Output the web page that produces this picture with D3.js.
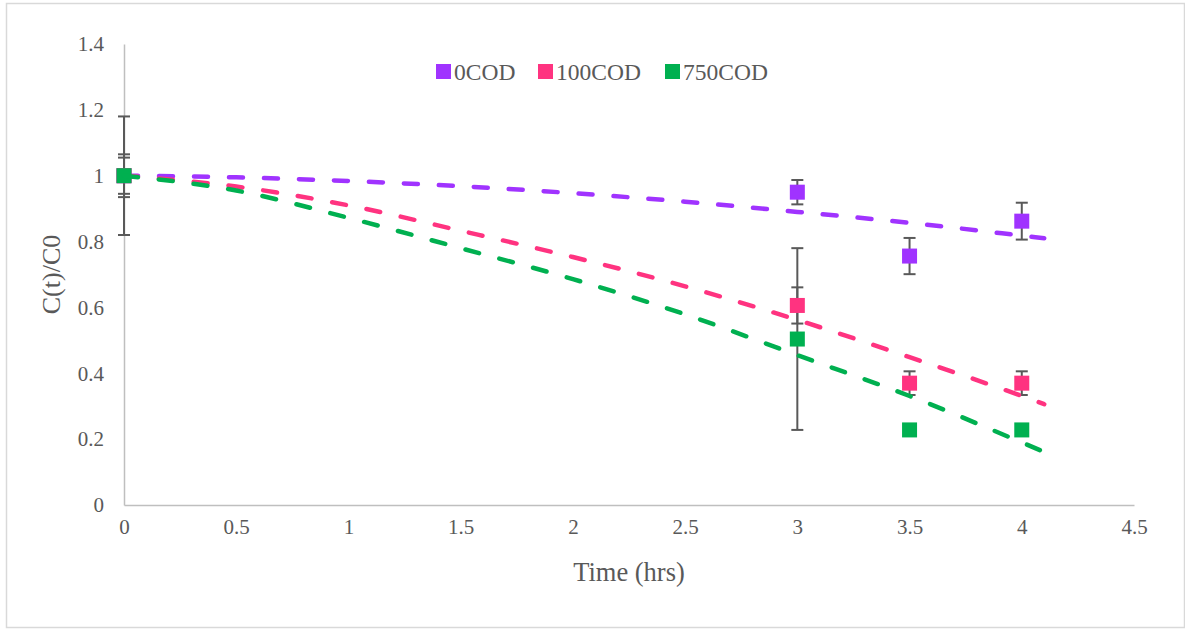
<!DOCTYPE html>
<html>
<head>
<meta charset="utf-8">
<script src="https://cdn.jsdelivr.net/npm/d3@7/dist/d3.min.js"></script>
<style>
  html, body { margin: 0; padding: 0; background: #fff; }
  svg { display: block; }
  text { font-family: "Liberation Serif", "Times New Roman", serif; fill: #595959; }
</style>
</head>
<body>
<svg id="chart" width="1185" height="629"></svg>
<script>
// ---- data ----
const times = [0, 3, 3.5, 4];
const seriesNames = ["0COD", "100COD", "750COD"];
const colors = ["#A033FF", "#FF3380", "#00B050"];
const values0 = [1, 0.95, 0.756, 0.862];
const values100 = [1, 0.606, 0.37, 0.37];
const values750 = [1, 0.504, 0.228, 0.228];
const err0 = [0.065, 0.037, 0.055, 0.056];
const err100 = [0.055, 0.055, 0.036, 0.036];
const err750 = [0.18, 0.276, 0, 0];
// trendline points
const trendT = [0, 0.5, 1, 1.5, 2, 2.5, 3, 3.5, 4, 4.1];
const trend0 = [1, 0.995, 0.984, 0.968, 0.947, 0.921, 0.89, 0.857, 0.818, 0.81];
const trend100 = [1, 0.967, 0.91, 0.833, 0.753, 0.664, 0.562, 0.449, 0.331, 0.306];
const trend750 = [1, 0.955, 0.872, 0.78, 0.686, 0.579, 0.455, 0.331, 0.19, 0.161];
const xTicks = [0, 0.5, 1, 1.5, 2, 2.5, 3, 3.5, 4, 4.5];
const yTicks = [0, 0.2, 0.4, 0.6, 0.8, 1, 1.2, 1.4];

const allValues = [values0, values100, values750];
const allErr = [err0, err100, err750];
const allTrend = [trend0, trend100, trend750];
const SERIF = "'Liberation Serif', 'Times New Roman', serif";

const svg = d3.select("#chart");
svg.append("rect").attr("x", 6.5).attr("y", 3.5).attr("width", 1178).attr("height", 624)
  .attr("fill", "#fff").attr("stroke", "#d9d9d9").attr("stroke-width", 1.5);

const x = d3.scaleLinear().domain([0, 4.5]).range([124, 1134]);
const y = d3.scaleLinear().domain([0, 1.4]).range([505, 44]);

// axes
const xAxis = svg.append("g").attr("transform", `translate(0,${y(0)})`)
  .call(d3.axisBottom(x).tickValues(xTicks).tickSize(0).tickPadding(14).tickFormat(d => String(d)));
const yAxis = svg.append("g").attr("transform", `translate(${x(0)},0)`)
  .call(d3.axisLeft(y).tickValues(yTicks).tickSize(0).tickPadding(20).tickFormat(d => String(d)));
[xAxis, yAxis].forEach(a => {
  a.attr("font-family", SERIF).attr("font-size", 21);
  a.select(".domain").attr("stroke", "#bfbfbf").attr("stroke-width", 1.5);
  a.selectAll("text").attr("font-family", SERIF).style("font-family", SERIF)
    .style("font-size", "21px").attr("fill", "#595959");
});

// titles
svg.append("text").attr("x", (x(0) + x(4.5)) / 2).attr("y", 581).attr("text-anchor", "middle")
  .style("font-family", SERIF).style("font-size", "26.5px").text("Time (hrs)");
svg.append("text").attr("transform", `translate(60,${(y(0) + y(1.4)) / 2}) rotate(-90)`)
  .attr("text-anchor", "middle").style("font-family", SERIF).style("font-size", "26px").text("C(t)/C0");

// error bars
const eg = svg.append("g");
allValues.forEach((vals, si) => {
  vals.forEach((v, i) => {
    const e = allErr[si][i];
    if (!e) return;
    const cx = x(times[i]);
    eg.append("line").attr("x1", cx).attr("x2", cx).attr("y1", y(v + e)).attr("y2", y(v - e))
      .attr("stroke", "#595959").attr("stroke-width", 2);
    [v + e, v - e].forEach(b => {
      eg.append("line").attr("x1", cx - 6).attr("x2", cx + 6).attr("y1", y(b)).attr("y2", y(b))
        .attr("stroke", "#595959").attr("stroke-width", 2);
    });
  });
});

// markers + trendlines
const line = d3.line().x(d => x(d[0])).y(d => y(d[1])).curve(d3.curveMonotoneX);
allValues.forEach((vals, si) => {
  const g = svg.append("g");
  g.selectAll("rect").data(vals).enter().append("rect")
    .attr("x", (d, i) => x(times[i]) - 7.5).attr("y", d => y(d) - 7.5)
    .attr("width", 15).attr("height", 15).attr("fill", colors[si]);
  g.append("path").datum(trendT.map((t, i) => [t, allTrend[si][i]]))
    .attr("d", line).attr("fill", "none").attr("stroke", colors[si])
    .attr("stroke-width", 4.5).attr("stroke-linecap", "round").attr("stroke-dasharray", "14,21");
});

// legend
const legendX = [436, 538, 665];
const lg = svg.append("g");
seriesNames.forEach((n, i) => {
  lg.append("rect").attr("x", legendX[i]).attr("y", 64).attr("width", 15).attr("height", 15).attr("fill", colors[i]);
  lg.append("text").attr("x", legendX[i] + 18).attr("y", 79.5)
    .style("font-family", SERIF).style("font-size", "23.5px").text(n);
});
</script>
</body>
</html>
